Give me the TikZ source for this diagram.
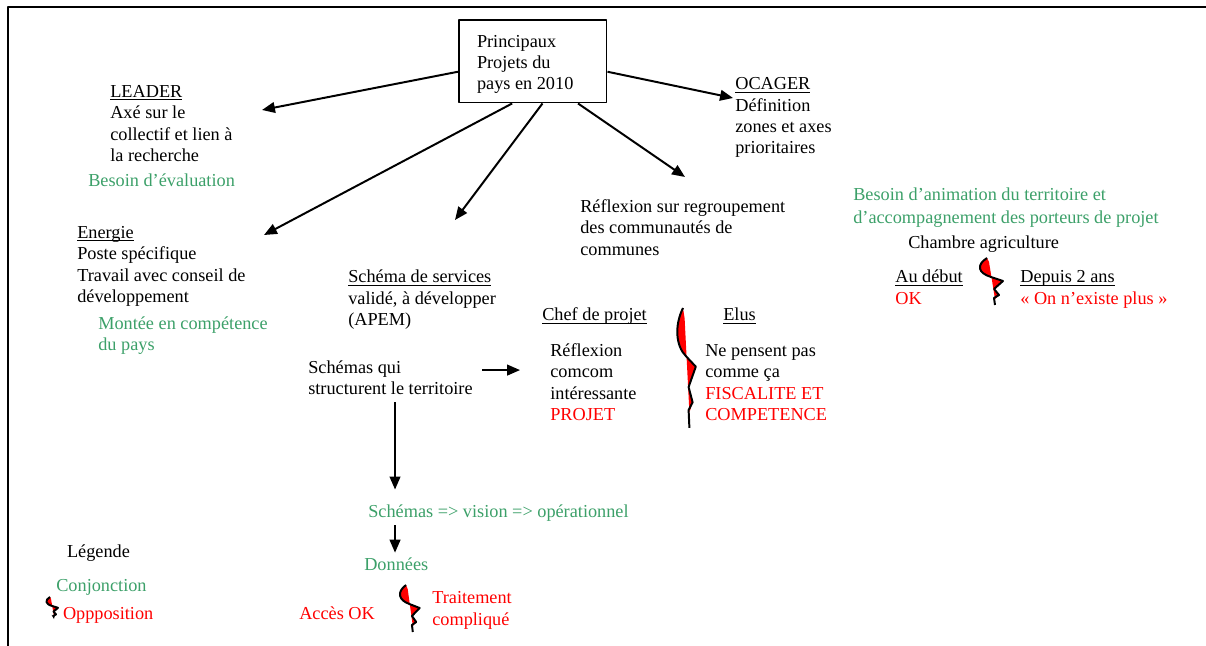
\documentclass[tikz,border=0pt]{standalone}
\usepackage{fontspec}
\setmainfont{Liberation Serif}
\usetikzlibrary{arrows.meta,calc}
\definecolor{vert}{RGB}{60,160,105}
\newcommand\souligne[1]{\underline{\smash{#1}}}

\begin{document}
\begin{tikzpicture}[x=0.657pt,y=-0.657pt,line join=round,
    txt/.style={anchor=base west,inner sep=0pt,align=left,font=\fontsize{12}{14}\selectfont},
    fl/.style={line width=1.3pt,-{Triangle[length=8.5pt,width=7pt]}},
    opp/.pic={
      \fill[red] (0,0) .. controls (-11,7) and (-9,15) .. (4,19) -- (16,23) -- (7,31) -- (12,37) -- (8,41) -- (2,4) -- cycle;
      \draw[line width=1.3pt,#1] (0,0) .. controls (-11,7) and (-9,15) .. (4,19) -- (16,23) -- (7,31) -- (12,37) -- (7,40) -- (8,47);
    }]
  \useasboundingbox (0,0) rectangle (1206,646);
  \draw[line width=1.3pt] (8,646) -- (8,7) -- (1206,7);

  % centre (base = derniere ligne)
  \node[draw,line width=1pt,anchor=north west,inner sep=0pt,minimum width=97.2pt,minimum height=54.5pt] (pays) at (458,19) {};
  \node[txt] (paystxt) at (476.7,89.9) {Principaux\\Projets du\\pays en 2010};

  % projets
  \node[txt] (leader) at (110,161.6) {\souligne{LEADER}\\Axé sur le\\collectif et lien à\\la recherche};
  \node[txt,vert] (evaluation) at (88,186.7) {Besoin d’évaluation};
  \node[txt] (energie) at (77,302.4) {\souligne{Energie}\\Poste spécifique\\Travail avec conseil de\\développement};
  \node[txt,vert] (montee) at (98,350.8) {Montée en compétence\\du pays};
  \node[txt] (services) at (348,325.6) {\souligne{Schéma de services}\\validé, à développer\\(APEM)};
  \node[txt] (structurent) at (308,394.6) {Schémas qui\\structurent le territoire};
  \node[txt,vert] (vision) at (368,517.3) {Schémas => vision => opérationnel};
  \node[txt,vert] (donnees) at (364,570.7) {Données};
  \node[txt,red] (acces) at (299,620) {Accès OK};
  \node[txt,red] (traitement) at (432,625) {Traitement\\compliqué};
  \node[txt] (regroupement) at (580,255.1) {Réflexion sur regroupement\\des communautés de\\communes};
  \node[txt] (chef) at (542,320.7) {\souligne{Chef de projet}};
  \node[txt] (elus) at (723,320.7) {\souligne{Elus}};
  \node[txt] (comcom) at (550,420.6) {Réflexion\\comcom\\intéressante\\\textcolor{red}{PROJET}};
  \node[txt] (pensent) at (705,420.6) {Ne pensent pas\\comme ça\\\textcolor{red}{FISCALITE ET}\\\textcolor{red}{COMPETENCE}};
  \node[txt] (ocager) at (735,153.9) {\souligne{OCAGER}\\Définition\\zones et axes\\prioritaires};
  \node[txt,vert,font=\fontsize{12}{15.3}\selectfont] (animation) at (853,223.3) {Besoin d’animation du territoire et\\d’accompagnement des porteurs de projet};
  \node[txt] (chambre) at (908,248.3) {Chambre agriculture};
  \node[txt] (debut) at (895,304.3) {\souligne{Au début}\\\textcolor{red}{OK}};
  \node[txt] (depuis) at (1020,304.3) {\souligne{Depuis 2 ans}\\\textcolor{red}{« On n’existe plus »}};

  % legende
  \node[txt] (legende) at (66.7,557.3) {Légende};
  \node[txt,vert] (conjonction) at (56,591.7) {Conjonction};
  \node[txt,red] (opposition) at (62.7,619.3) {Oppposition};

  % oppositions
  \pic[xscale=0.8,yscale=2.55] at (683,308) {opp};
  \pic at (987,258) {opp};
  \pic[xscale=0.85] at (406,585) {opp};
  \pic[xscale=0.5,yscale=0.47] at (50,597) {opp={-{Stealth[length=3pt]}}};

  % fleches
  \coordinate (tLeader) at (262,110);
  \coordinate (tEnergie) at (264,235);
  \coordinate (tServices) at (455,220);
  \coordinate (tRegroup) at (685,177);
  \coordinate (tOcager) at (733,98);
  \draw[fl] (pays.188) -- (tLeader);
  \draw[fl] (pays.244) -- (tEnergie);
  \draw[fl] (pays.283) -- (tServices);
  \draw[fl] (pays.317) -- (tRegroup);
  \draw[fl] (pays.352) -- (tOcager);
  \coordinate (axe) at ([xshift=3pt]structurent.south);
  \draw[fl,shorten <=4.6pt,shorten >=9.7pt] (axe) -- (axe |- vision.north);
  \draw[fl,shorten <=2.5pt,shorten >=3.3pt] (vision.south -| axe) -- (donnees.north -| axe);
  \draw[fl] ([xshift=6pt,yshift=5pt]structurent.east) -- ++(38,0);
\end{tikzpicture}
\end{document}
